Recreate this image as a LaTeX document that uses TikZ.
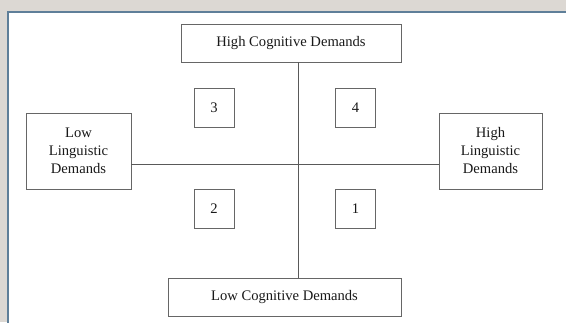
\documentclass[tikz,border=0pt]{standalone}
\usepackage{fontspec}
\setmainfont{Liberation Serif}
\begin{document}
\begin{tikzpicture}[x=1pt,y=1pt,
  lbl/.style={draw=black!60, line width=0.9pt, fill=white, text=black!90, font=\fontsize{14.6}{18}\selectfont, align=center, inner sep=0pt},
  numbox/.style={lbl, minimum width=40pt, minimum height=39pt},
  axis/.style={draw=black!65, line width=0.9pt}]
\useasboundingbox (0,0) rectangle (566,322);
\fill[fill={rgb,255:red,220;green,216;blue,211}] (0,0) rectangle (566,322);
\fill[white] (8,-5) rectangle (575,310);
\draw[draw={rgb,255:red,95;green,127;blue,153}, line width=1.2pt] (8,-5) -- (8,310) -- (575,310);
\coordinate (c) at (298,158);
\node[lbl, minimum width=220pt, minimum height=38pt] (top) at (291,279) {High Cognitive Demands};
\node[lbl, minimum width=233pt, minimum height=38pt] (bot) at (284.5,25) {Low Cognitive Demands};
\node[lbl, minimum width=105pt, minimum height=76pt] (left) at (78.5,171) {Low\\Linguistic\\Demands};
\node[lbl, minimum width=103pt, minimum height=76pt] (right) at (490.5,171) {High\\Linguistic\\Demands};
\draw[axis] (top.south -| c) -- (bot.north -| c);
\draw[axis] (left.east |- c) -- (right.west |- c);
\node[numbox] (n3) at (214,214.5) {3};
\node[numbox] (n4) at (355.5,214.5) {4};
\node[numbox] (n2) at (214,113.5) {2};
\node[numbox] (n1) at (355.5,113.5) {1};
\end{tikzpicture}
\end{document}
